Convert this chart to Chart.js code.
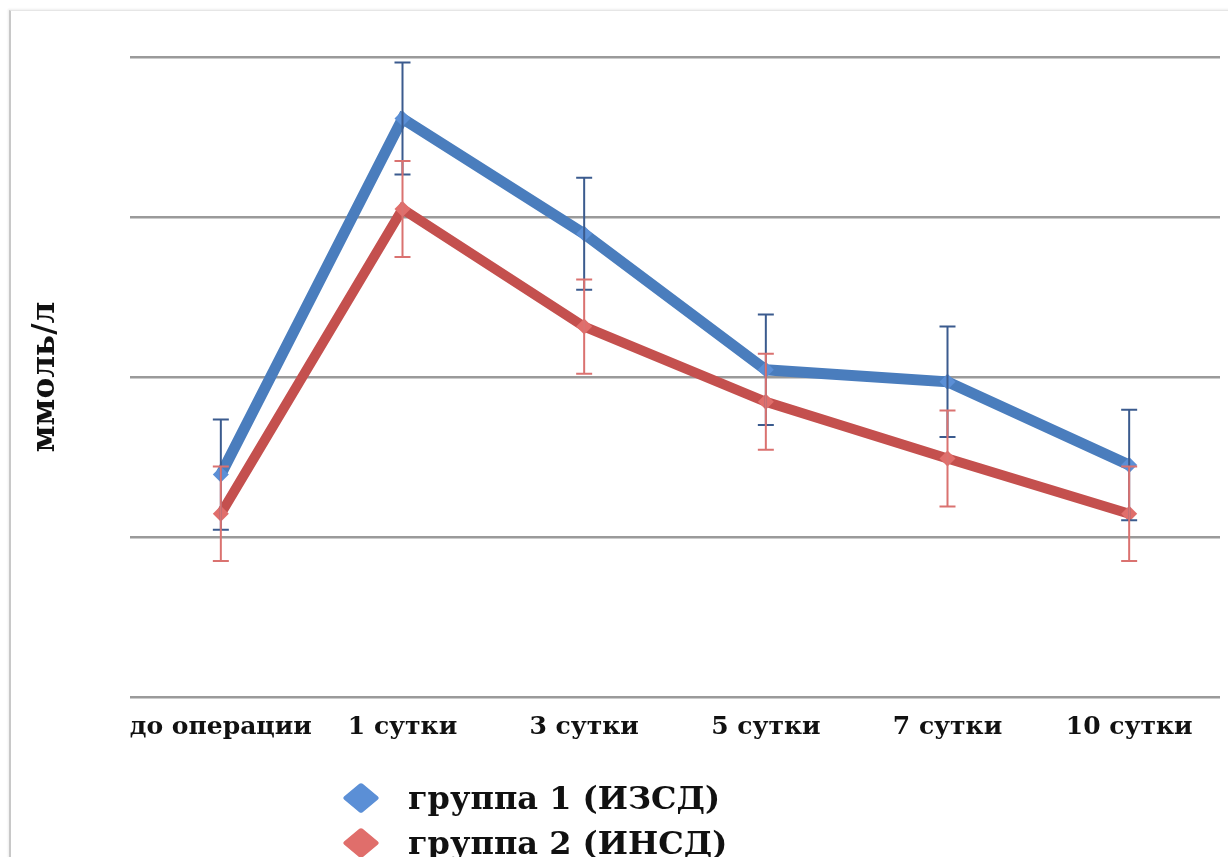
<!DOCTYPE html>
<html>
<head>
<meta charset="utf-8">
<script src="https://cdn.jsdelivr.net/npm/chart.js@4"></script>
<style>
  html, body { margin: 0; padding: 0; background: #fff; }
  #wrap { position: relative; width: 1228px; height: 857px; overflow: hidden; background: #fff; }
  #frame { position: absolute; left: 9px; top: 10px; width: 1240px; height: 900px;
           border-left: 2px solid #c8c8c8; border-top: 1px solid #e6e6e6; box-shadow: -1px -1px 2px #eee; }
  #chart { position: absolute; left: 0; top: 0; }
  #legend { position: absolute; left: 342px; top: 776px; font-family: "DejaVu Serif", "Liberation Serif", serif;
            font-weight: bold; font-size: 32px; color: #111; line-height: 45px; }
  .item { display: flex; align-items: center; white-space: nowrap; height: 45px; }
  .mkbox { width: 38px; height: 31px; margin-right: 28px; position: relative; }
  .mk { position: absolute; left: 8px; top: 4px; width: 22px; height: 22px; transform: scaleX(1.2) rotate(45deg); border-radius: 2px; }
</style>
</head>
<body>
<div id="wrap">
  <div id="frame"></div>
  <canvas id="chart" width="1228" height="857"></canvas>
  <div id="legend"></div>
</div>
<script>
const categories = ["до операции", "1 сутки", "3 сутки", "5 сутки", "7 сутки", "10 сутки"];
const seriesNames = ["группа 1 (ИЗСД)", "группа 2 (ИНСД)"];
const group1 = [2.78, 7.23, 5.79, 4.09, 3.94, 2.9];
const group1Err = [0.69, 0.7, 0.7, 0.69, 0.69, 0.69];
const group2 = [2.29, 6.1, 4.63, 3.69, 2.98, 2.29];
const group2Err = [0.59, 0.6, 0.59, 0.6, 0.6, 0.59];
const yTicks = [0, 2, 4, 6, 8];

const colors = ["#4a7dbd", "#c4504e"];
const pointColors = ["#5b8fd6", "#e06e6b"];
const errColors = ["#3b5b8e", "#da7270"];
const errs = [group1Err, group2Err];

const errorBars = {
  id: "errorBars",
  afterDatasetsDraw(chart) {
    const ctx = chart.ctx;
    const y = chart.scales.y;
    chart.data.datasets.forEach((ds, i) => {
      const meta = chart.getDatasetMeta(i);
      ctx.save();
      ctx.strokeStyle = errColors[i];
      ctx.lineWidth = 2;
      meta.data.forEach((pt, j) => {
        const v = ds.data[j], e = errs[i][j];
        const yt = y.getPixelForValue(v + e), yb = y.getPixelForValue(v - e);
        const x = pt.x;
        ctx.beginPath();
        ctx.moveTo(x, yt); ctx.lineTo(x, yb);
        ctx.moveTo(x - 8, yt); ctx.lineTo(x + 8, yt);
        ctx.moveTo(x - 8, yb); ctx.lineTo(x + 8, yb);
        ctx.stroke();
      });
      ctx.restore();
    });
  }
};

const chart = new Chart(document.getElementById("chart"), {
  type: "line",
  data: {
    labels: categories,
    datasets: [
      { label: seriesNames[0], data: group1, borderColor: colors[0], backgroundColor: pointColors[0],
        borderWidth: 11, pointStyle: "rectRot", pointRadius: 8, pointBorderWidth: 0, tension: 0 },
      { label: seriesNames[1], data: group2, borderColor: colors[1], backgroundColor: pointColors[1],
        borderWidth: 10, pointStyle: "rectRot", pointRadius: 8, pointBorderWidth: 0, tension: 0 }
    ]
  },
  options: {
    responsive: false,
    animation: false,
    layout: { padding: { left: 20, top: 57, right: 2, bottom: 0 } },
    plugins: { legend: { display: false }, tooltip: { enabled: false } },
    scales: {
      x: {
        offset: true,
        grid: { display: false, drawTicks: false },
        border: { display: false },
        ticks: { color: "#111", padding: 15, maxRotation: 0, minRotation: 0, autoSkip: false,
                 font: { family: "DejaVu Serif", weight: "bold", size: 25 } },
        afterFit(s) { s.height = 160; }
      },
      y: {
        min: 0, max: 8,
        afterBuildTicks(s) { s.ticks = yTicks.map(v => ({ value: v })); },
        ticks: { display: false },
        grid: { color: "#9a9a9a", lineWidth: 2.5, drawTicks: false },
        border: { display: false },
        title: { display: true, text: "ммоль/л", color: "#111", padding: { top: 7, bottom: 0 },
                 font: { family: "DejaVu Serif", weight: "bold", size: 31 } },
        afterFit(s) { s.width = 110; }
      }
    }
  },
  plugins: [errorBars]
});

const leg = document.getElementById("legend");
seriesNames.forEach((n, i) => {
  const d = document.createElement("div");
  d.className = "item";
  const box = document.createElement("span");
  box.className = "mkbox";
  const m = document.createElement("span");
  m.className = "mk";
  m.style.background = pointColors[i];
  box.appendChild(m);
  const t = document.createElement("span");
  t.textContent = n;
  d.appendChild(box); d.appendChild(t);
  leg.appendChild(d);
});
</script>
</body>
</html>
